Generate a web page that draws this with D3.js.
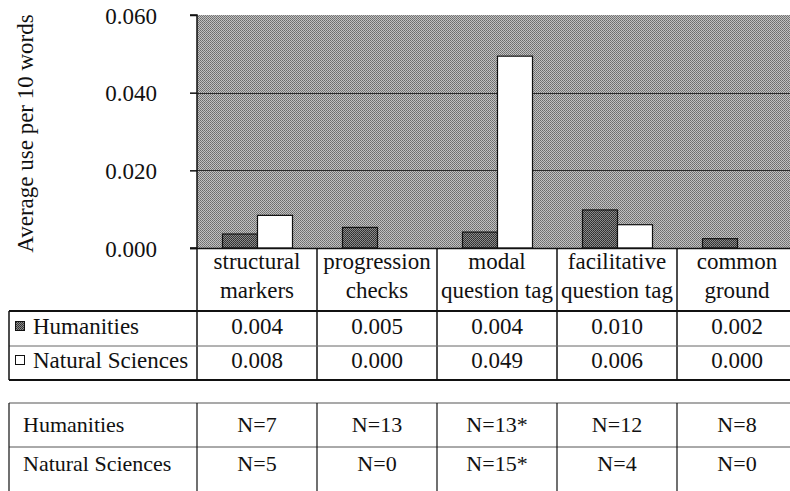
<!DOCTYPE html>
<html><head><meta charset="utf-8">
<script src="https://cdn.jsdelivr.net/npm/d3@7"></script>
<style>
html,body{margin:0;padding:0;background:#fff;}
svg{display:block;}
</style></head>
<body><svg id="c" width="790" height="491"></svg>
<script>
const categories = [["structural","markers"],["progression","checks"],["modal","question tag"],["facilitative","question tag"],["common","ground"]];
const seriesNames = ["Humanities","Natural Sciences"];
const humanities = [0.0036,0.0053,0.0041,0.0098,0.0024];
const naturalSciences = [0.0084,0.0,0.0494,0.0060,0.0];
const yTicks = [0,0.02,0.04,0.06];
const humanitiesN = ["N=7","N=13","N=13*","N=12","N=8"];
const naturalSciencesN = ["N=5","N=0","N=15*","N=4","N=0"];
const yTitle = "Average use per 10 words";

const svg = d3.select("#c");
const W = 790, FS = 23, FS2 = 22;
const plotL = 197, plotR = 797, plotT = 15, plotB = 248;
const catKeys = categories.map((c,i)=>i);

const x0 = d3.scaleBand().domain(catKeys).range([plotL, plotR]).paddingInner(0).paddingOuter(0);
const x1 = d3.scaleBand().domain(seriesNames).range([0, x0.bandwidth()]).paddingInner(0).paddingOuter(0.714);
const y = d3.scaleLinear().domain([0,0.06]).range([plotB, plotT]);

const defs = svg.append("defs");
const bg = defs.append("pattern").attr("id","bgpat").attr("width",2).attr("height",2).attr("patternUnits","userSpaceOnUse");
bg.append("rect").attr("width",2).attr("height",2).attr("fill","#c2c2c2");
bg.append("rect").attr("width",1).attr("height",1).attr("fill","#6c6c6c");
bg.append("rect").attr("x",1).attr("y",1).attr("width",1).attr("height",1).attr("fill","#7a7a7a");
const hp = defs.append("pattern").attr("id","hpat").attr("width",2).attr("height",2).attr("patternUnits","userSpaceOnUse");
hp.append("rect").attr("width",2).attr("height",2).attr("fill","#8a8a8a");
hp.append("rect").attr("width",1).attr("height",1).attr("fill","#2e2e2e");
hp.append("rect").attr("x",1).attr("y",1).attr("width",1).attr("height",1).attr("fill","#3a3a3a");

// plot background
svg.append("rect").attr("x",plotL).attr("y",plotT).attr("width",plotR-plotL).attr("height",plotB-plotT).attr("fill","url(#bgpat)");

// gridlines
svg.append("g").selectAll("line").data(yTicks.filter(t=>t>0 && t<0.06)).join("line")
  .attr("x1",plotL).attr("x2",plotR).attr("y1",d=>Math.round(y(d))+0.5).attr("y2",d=>Math.round(y(d))+0.5)
  .attr("stroke","#2a2a2a").attr("stroke-width",1);

// bars
const groups = svg.append("g").selectAll("g").data(catKeys).join("g").attr("transform",d=>`translate(${x0(d)},0)`);
groups.selectAll("rect").data(i=>[{s:seriesNames[0],v:humanities[i]},{s:seriesNames[1],v:naturalSciences[i]}].filter(d=>d.v>0)).join("rect")
  .attr("x",d=>x1(d.s)+0.5).attr("width",x1.bandwidth())
  .attr("y",d=>y(d.v)).attr("height",d=>y(0)-y(d.v))
  .attr("fill",d=>d.s===seriesNames[0]?"url(#hpat)":"#fff")
  .attr("stroke","#111").attr("stroke-width",1.2);

// y axis
const yAxis = d3.axisLeft(y).tickValues(yTicks).tickFormat(d3.format(".3f")).tickSize(7).tickPadding(33);
const ya = svg.append("g").attr("transform",`translate(${plotL},0)`).call(yAxis);
ya.attr("font-family",null).attr("font-size",null);
ya.select(".domain").attr("stroke","#111").attr("stroke-width",1.5).attr("d",`M-7,${plotT}H0V${plotB}H-7`);
ya.selectAll(".tick line").attr("stroke","#111").attr("stroke-width",1.5);
ya.selectAll(".tick text").attr("font-size",FS).attr("fill","#111").attr("dy","0.36em");

// x baseline
svg.append("line").attr("x1",plotL-7).attr("x2",W).attr("y1",plotB+0.5).attr("y2",plotB+0.5).attr("stroke","#111").attr("stroke-width",1.5);

// y title
svg.append("text").attr("transform",`translate(33,${(plotT+plotB)/2+2}) rotate(-90)`).attr("text-anchor","middle")
  .attr("font-size",FS).text(yTitle);

// category header row
const hdrT = plotB, tblT = 311, rowM = 346, tblB = 380;
const colLines = catKeys.map(k=>x0(k));
svg.append("g").selectAll("line").data(colLines).join("line")
  .attr("x1",d=>d).attr("x2",d=>d).attr("y1",hdrT).attr("y2",tblB)
  .attr("stroke","#111").attr("stroke-width",1.5);
const hdr = svg.append("g").selectAll("text").data(catKeys).join("text")
  .attr("x",d=>x0(d)+x0.bandwidth()/2).attr("text-anchor","middle").attr("font-size",FS);
hdr.append("tspan").attr("x",d=>x0(d)+x0.bandwidth()/2).attr("y",269).text(d=>categories[d][0]);
hdr.append("tspan").attr("x",d=>x0(d)+x0.bandwidth()/2).attr("y",298).text(d=>categories[d][1]);

// data table
const tL = 9;
svg.append("line").attr("x1",tL).attr("x2",W).attr("y1",tblT).attr("y2",tblT).attr("stroke","#111").attr("stroke-width",2);
svg.append("line").attr("x1",tL).attr("x2",W).attr("y1",rowM).attr("y2",rowM).attr("stroke","#666").attr("stroke-width",1);
svg.append("line").attr("x1",tL).attr("x2",W).attr("y1",tblB).attr("y2",tblB).attr("stroke","#111").attr("stroke-width",2);
svg.append("line").attr("x1",tL).attr("x2",tL).attr("y1",tblT).attr("y2",tblB).attr("stroke","#111").attr("stroke-width",1.5);
const fmt = d3.format(".3f");
const rows = [{name:seriesNames[0],vals:humanities,fill:"url(#hpat)",yb:334,ys:321},{name:seriesNames[1],vals:naturalSciences,fill:"#fff",yb:368,ys:355}];
rows.forEach(r=>{
  svg.append("rect").attr("x",15.5).attr("y",r.ys+0.5).attr("width",9).attr("height",9).attr("fill",r.fill).attr("stroke","#111").attr("stroke-width",1);
  svg.append("text").attr("x",33).attr("y",r.yb).attr("font-size",FS).text(r.name);
  svg.append("g").selectAll("text").data(r.vals).join("text")
    .attr("x",(d,i)=>x0(i)+x0.bandwidth()/2).attr("y",r.yb).attr("text-anchor","middle").attr("font-size",FS)
    .text(d=>fmt(d));
});

// N table
const nT = 403, nM = 447, nB = 491;
svg.append("line").attr("x1",tL).attr("x2",W).attr("y1",nT).attr("y2",nT).attr("stroke","#555").attr("stroke-width",1.2);
svg.append("line").attr("x1",tL).attr("x2",W).attr("y1",nM).attr("y2",nM).attr("stroke","#555").attr("stroke-width",1);
svg.append("line").attr("x1",tL).attr("x2",tL).attr("y1",nT).attr("y2",nB).attr("stroke","#111").attr("stroke-width",1.2);
svg.append("g").selectAll("line").data(colLines).join("line")
  .attr("x1",d=>d).attr("x2",d=>d).attr("y1",nT).attr("y2",nB)
  .attr("stroke","#111").attr("stroke-width",1.2);
const nRows = [{name:seriesNames[0],vals:humanitiesN,yb:432},{name:seriesNames[1],vals:naturalSciencesN,yb:471}];
nRows.forEach(r=>{
  svg.append("text").attr("x",23).attr("y",r.yb).attr("font-size",FS2).text(r.name);
  svg.append("g").selectAll("text").data(r.vals).join("text")
    .attr("x",(d,i)=>x0(i)+x0.bandwidth()/2).attr("y",r.yb).attr("text-anchor","middle").attr("font-size",FS2)
    .text(d=>d);
});

svg.selectAll("text").style("font-family",'"Liberation Serif"').style("fill","#111");
</script></body></html>
